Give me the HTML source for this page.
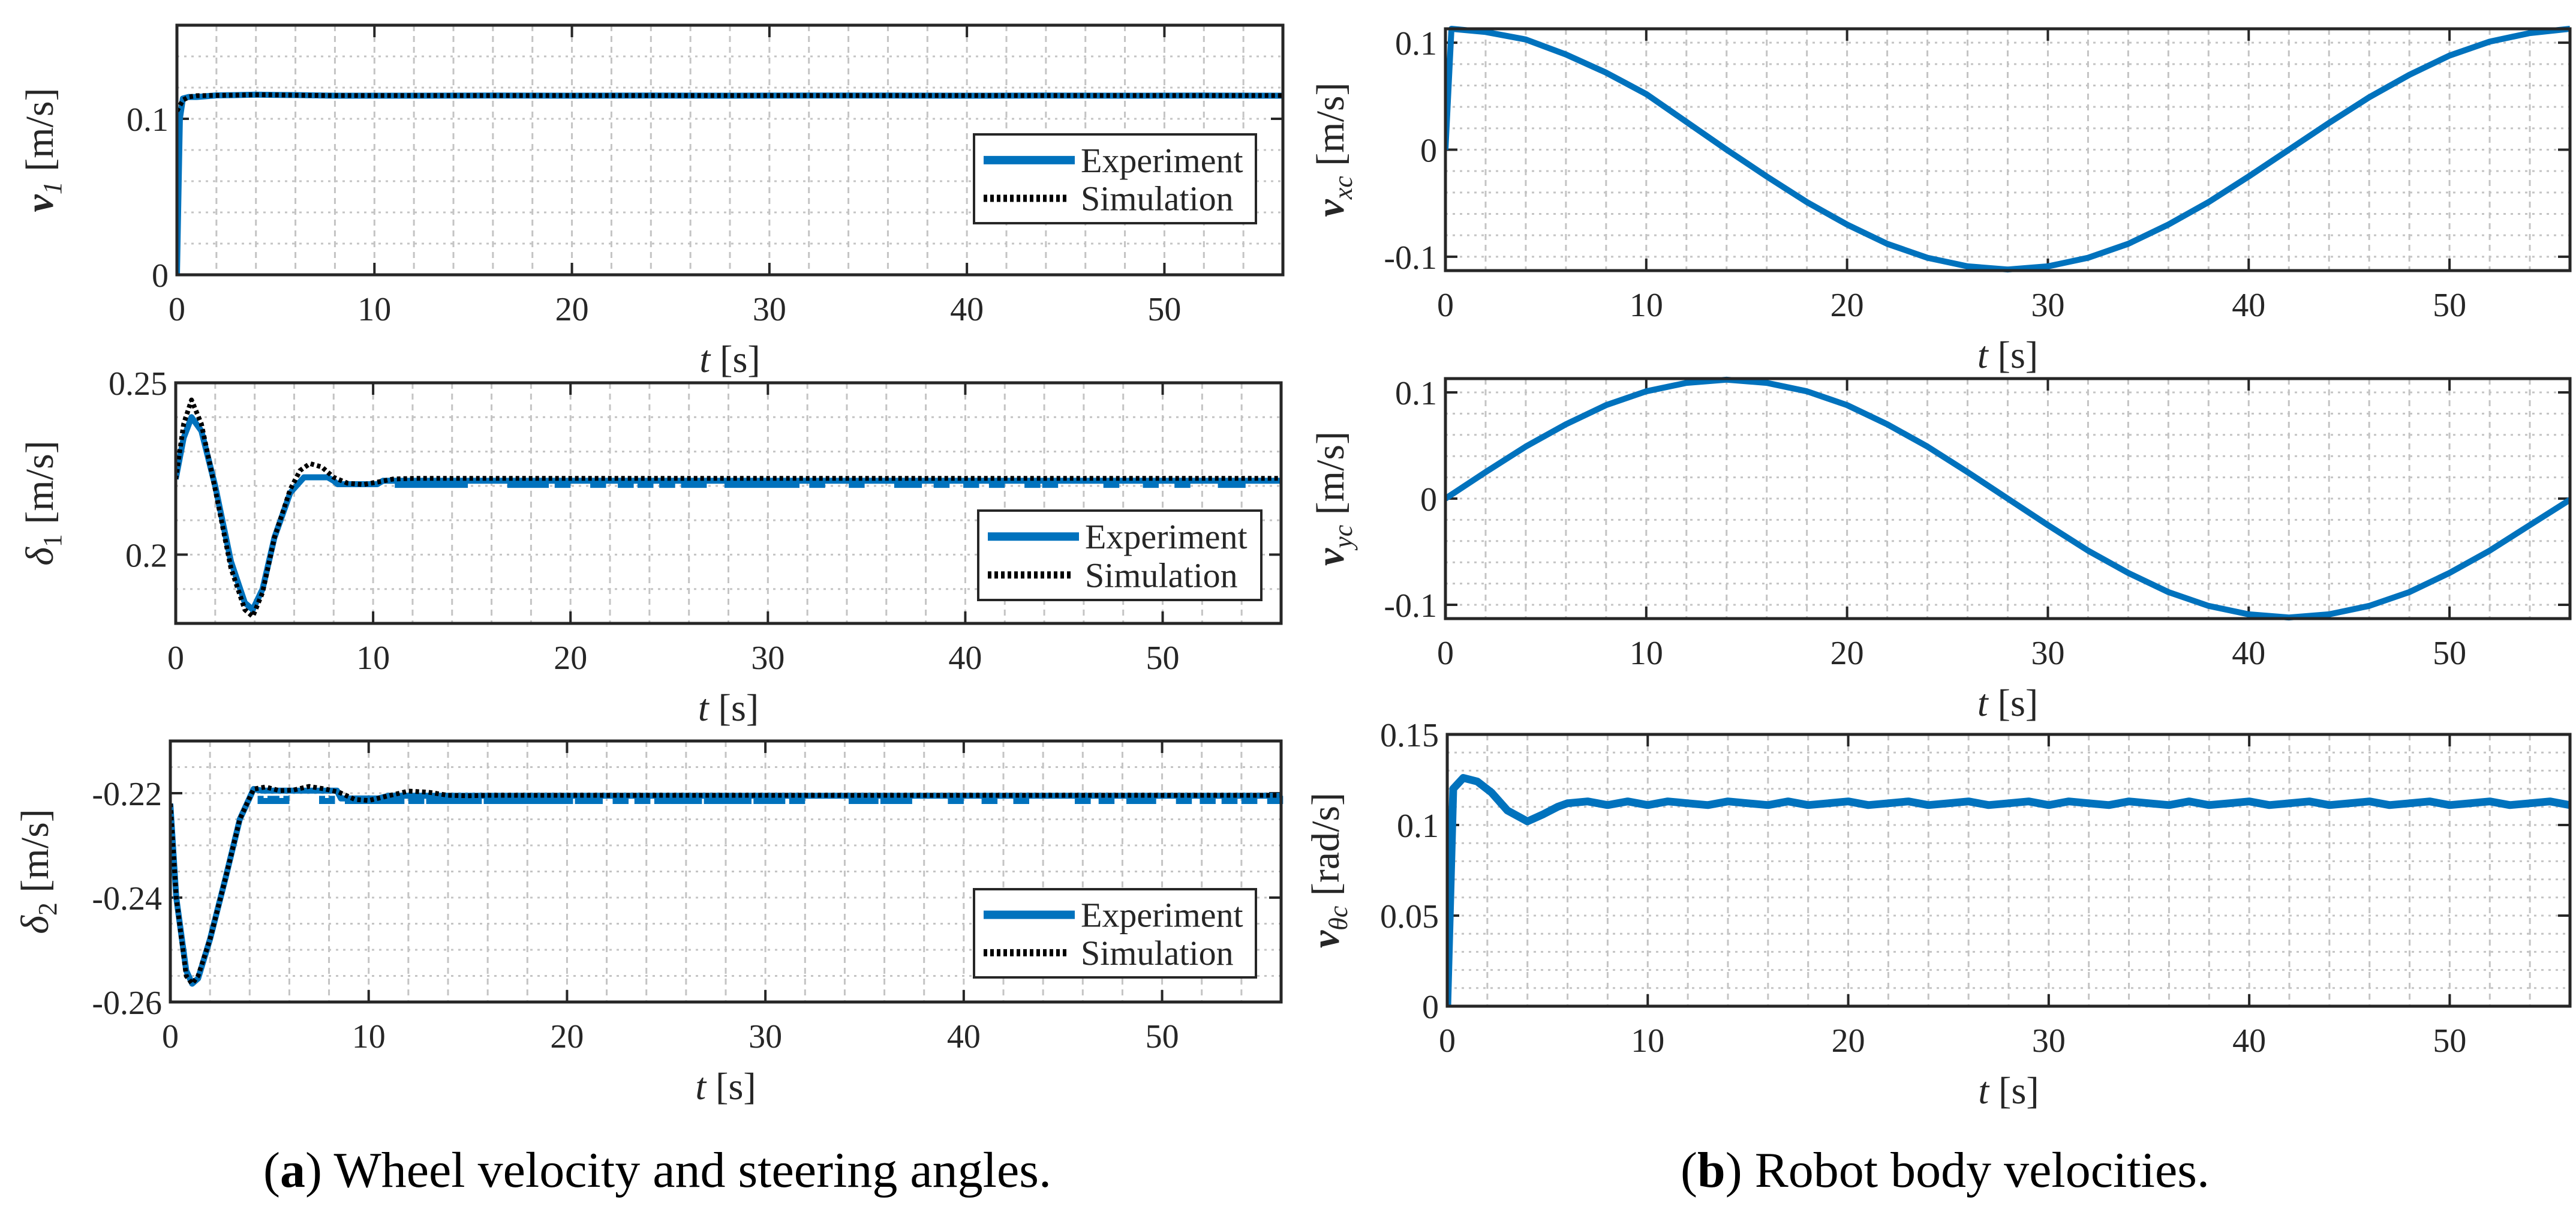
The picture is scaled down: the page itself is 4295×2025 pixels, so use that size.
<!DOCTYPE html>
<html><head><meta charset="utf-8"><style>
html,body{margin:0;padding:0;background:#fff;}
svg{display:block;}
text{font-family:"Liberation Serif",serif;fill:#262626;}
</style></head><body>
<svg id="fig" width="4295" height="2025" viewBox="0 0 4295 2025" xmlns="http://www.w3.org/2000/svg">
<text x="1096" y="1978" font-size="84" text-anchor="middle" style="fill:#000">(<tspan font-weight="bold">a</tspan>) Wheel velocity and steering angles.</text>
<text x="3243" y="1978" font-size="84" text-anchor="middle" style="fill:#000">(<tspan font-weight="bold">b</tspan>) Robot body velocities.</text>
</svg>
<script>
// ---- data ----
const xTicks=[0,10,20,30,40,50];
// v1
const v1ExpT=[0,0.15,0.3,0.6,1,2,3,4,5,6,8,12,16,20,24,28,32,36,40,44,48,52,56];
const v1ExpV=[0,0.1,0.113,0.114,0.114,0.115,0.1152,0.1155,0.1153,0.1152,0.1148,0.1148,0.1149,0.1148,0.1149,0.1148,0.1149,0.1149,0.1148,0.1149,0.1148,0.1149,0.1148];
const v1SimT=[0,0.3,0.6,1,2,3,4,5,6,8,12,16,20,24,28,32,36,40,44,48,52,56];
const v1SimV=[0.105,0.112,0.114,0.1148,0.115,0.1152,0.1154,0.1153,0.1151,0.1149,0.1149,0.1149,0.1149,0.1149,0.1149,0.1149,0.1149,0.1149,0.1149,0.1149,0.1149,0.1149];
// delta1
const d1ExpT=[0,0.4,0.8,1.3,2,2.8,3.5,3.9,4.4,5,5.8,6.5,7.7,8,8.2,10.2,10.5,56];
const d1ExpV=[0.222,0.234,0.240,0.236,0.220,0.198,0.186,0.184,0.190,0.205,0.218,0.2225,0.2225,0.2215,0.2205,0.2205,0.2215,0.2215];
const d1SimT=[0,0.4,0.8,1.3,2,2.8,3.5,3.9,4.4,5,5.8,6.3,6.8,7.4,8,8.7,9.5,10.3,11,12,56];
const d1SimV=[0.222,0.238,0.245,0.238,0.219,0.196,0.184,0.182,0.189,0.205,0.219,0.2245,0.2265,0.2255,0.2225,0.2208,0.2204,0.2212,0.222,0.2222,0.2222];
const d1Spikes=[11.5,12.2,13,13.6,14.4,17.2,17.7,18.5,19.6,21.4,22.8,23.8,24.9,26,26.5,28.2,28.8,29.5,30.2,30.7,31.2,32.5,34.5,36.8,37.4,38.8,40.3,41.6,43.4,44.3,47.4,49.4,51,53.2,53.8];
const d1SpikeV=0.2203;
// delta2
const d2ExpT=[0,0.3,0.8,1.1,1.4,2,2.8,3.5,4.2,4.6,8.4,8.6,10.5,11,56];
const d2ExpV=[-0.222,-0.240,-0.254,-0.2565,-0.2555,-0.248,-0.236,-0.225,-0.2192,-0.2195,-0.2195,-0.221,-0.221,-0.2205,-0.2205];
const d2SimT=[0,0.3,0.8,1.1,1.4,2,2.8,3.5,4.2,4.8,5.5,6.2,7,7.8,8.5,9.3,10,11,12,13,14,15,16,56];
const d2SimV=[-0.222,-0.240,-0.255,-0.2565,-0.255,-0.248,-0.236,-0.225,-0.2192,-0.2188,-0.2195,-0.2194,-0.2187,-0.2192,-0.2198,-0.2212,-0.2214,-0.2205,-0.2196,-0.2198,-0.2204,-0.2205,-0.2204,-0.2204];
const d2Spikes=[4.8,5.6,7.9,9.2,9.8,10.6,11.4,12.4,13.3,14.1,14.9,15.3,16.2,16.8,17.6,18.4,19.2,19.9,20.8,21.4,22.7,23.8,24.8,25.6,26.4,27.3,28.1,28.9,29.8,30.6,31.6,34.6,35.3,36.2,37,39.6,41.3,42.9,46,47.2,48.6,49.3,51.1,52.3,53.4,54.4,55.7];
const d2SpikeV=-0.2215;
// vxc, vyc
const bodyT=[0,2,4,6,8,10,12,14,16,18,20,22,24,26,28,30,32,34,36,38,40,42,44,46,48,50,52,54,56];
const vxcV=[0.112,0.110,0.103,0.089,0.072,0.052,0.026,0.000,-0.025,-0.049,-0.070,-0.088,-0.101,-0.109,-0.112,-0.109,-0.101,-0.088,-0.070,-0.049,-0.025,0.000,0.025,0.049,0.070,0.088,0.101,0.109,0.113];
const vycV=[0.000,0.025,0.049,0.070,0.088,0.101,0.109,0.112,0.109,0.101,0.088,0.070,0.049,0.025,0.000,-0.025,-0.049,-0.070,-0.088,-0.101,-0.109,-0.112,-0.109,-0.101,-0.088,-0.070,-0.049,-0.025,-0.001];
// vthetac
const vthT=[0,0.3,0.8,1.5,2.2,3,4,4.8,5.5,6,7,8,9,10,11,12,13,14,15,16,17,18,19,20,21,22,23,24,25,26,27,28,29,30,31,32,33,34,35,36,37,38,39,40,41,42,43,44,45,46,47,48,49,50,51,52,53,54,55,56];
const vthV=[0,0.120,0.126,0.124,0.118,0.108,0.102,0.106,0.110,0.112,0.113,0.111,0.113,0.111,0.113,0.112,0.111,0.113,0.112,0.111,0.113,0.111,0.112,0.113,0.111,0.112,0.113,0.111,0.112,0.113,0.111,0.112,0.113,0.111,0.113,0.112,0.111,0.113,0.112,0.111,0.113,0.111,0.112,0.113,0.111,0.112,0.113,0.111,0.112,0.113,0.111,0.112,0.113,0.111,0.112,0.113,0.111,0.112,0.113,0.111];

// ---- drawing ----
const NS="http://www.w3.org/2000/svg";
const svg=document.getElementById('fig');
const BLUE="#0072BD";
function mk(tag,attrs,parent){const e=document.createElementNS(NS,tag);for(const k in attrs)e.setAttribute(k,attrs[k]);(parent||svg).appendChild(e);return e;}

function panel(c){
  const g=mk('g',{});
  
  
  const sx=t=>c.l+(t-0)/(56-0)*(c.r-c.l);
  const sy=v=>c.b-(v-c.y0)/(c.y1-c.y0)*(c.b-c.t);
  c.sx=sx;c.sy=sy;
  for(let t=2;t<56;t+=2){
    const l=mk('line',{x1:sx(t),x2:sx(t),y1:c.t,y2:c.b,stroke:"#c4c4c4","stroke-width":3,"stroke-dasharray":"10 8"},g);
    
    
  }
  const start=Math.ceil((c.y0+1e-9)/c.minor)*c.minor;
  for(let v=start;v<c.y1-1e-9;v+=c.minor){
    const l=mk('line',{x1:c.l,x2:c.r,y1:sy(v),y2:sy(v),stroke:"#c4c4c4","stroke-width":3,"stroke-dasharray":"4 8"},g);
    
    
  }
  xTicks.forEach(t=>{
    mk('line',{x1:sx(t),x2:sx(t),y1:c.b,y2:c.b-20,stroke:"#262626","stroke-width":4},g);
    mk('line',{x1:sx(t),x2:sx(t),y1:c.t,y2:c.t+20,stroke:"#262626","stroke-width":4},g);
    const tx=mk('text',{x:sx(t),y:c.b+76,"font-size":56,"text-anchor":"middle"},g);
    tx.textContent=t;
    
    
  });
  c.yTicks.forEach((v,i)=>{
    mk('line',{x1:c.l,x2:c.l+20,y1:sy(v),y2:sy(v),stroke:"#262626","stroke-width":4},g);
    mk('line',{x1:c.r,x2:c.r-20,y1:sy(v),y2:sy(v),stroke:"#262626","stroke-width":4},g);
    const tx=mk('text',{x:c.l-14,y:sy(v)+20,"font-size":56,"text-anchor":"end"},g);
    tx.textContent=c.yLabels[i];
    
    
  });
  const xt=mk('text',{x:(c.l+c.r)/2,y:c.b+162,"font-size":64,"text-anchor":"middle"},g);
  xt.innerHTML='<tspan font-style="italic">t</tspan> [s]';
  
  
  const yt=mk('text',{x:0,y:0,"font-size":66,"text-anchor":"middle",transform:`translate(${c.yx},${(c.t+c.b)/2}) rotate(-90)`},g);
  yt.innerHTML=c.ylab;
  
  
  c.g=g;
  return c;
}
function frame(c){
  const r=mk('rect',{x:c.l,y:c.t,width:c.r-c.l,height:c.b-c.t,fill:"none",stroke:"#262626","stroke-width":5},c.g);
  
  
}
function clipFor(c,id){
  const cp=mk('clipPath',{id:id});
  mk('rect',{x:c.l,y:c.t-8,width:c.r-c.l,height:c.b-c.t+16},cp);
  return 'url(#'+id+')';
}
function line(c,T,V,opts,name){
  let d='';
  T.forEach((t,i)=>{d+=(i?'L':'M')+c.sx(t).toFixed(1)+','+c.sy(V[i]).toFixed(1);});
  const p=mk('path',Object.assign({d:d,fill:"none","stroke-linejoin":"round"},opts),c.g);
  
  
  return p;
}
function spikes(c,times,base,low,name){
  const w=(c.r-c.l)/56*0.25;
  let d='';
  times.forEach(t=>{const x=c.sx(t);d+=`M${(x-w).toFixed(1)},${c.sy(base)}L${(x-w).toFixed(1)},${c.sy(low)}L${(x+w).toFixed(1)},${c.sy(low)}L${(x+w).toFixed(1)},${c.sy(base)}`;});
  const p=mk('path',{d:d,fill:"none",stroke:BLUE,"stroke-width":10},c.g);
  
  
}
function legend(c,x,y,w,h){
  const g=mk('g',{},c.g);
  
  
  mk('rect',{x:x,y:y,width:w,height:h,fill:"#fff",stroke:"#262626","stroke-width":4},g);
  const r1=y+h*0.29,r2=y+h*0.72;
  mk('line',{x1:x+16,x2:x+168,y1:r1,y2:r1,stroke:BLUE,"stroke-width":14},g);
  mk('line',{x1:x+16,x2:x+158,y1:r2,y2:r2,stroke:"#000","stroke-width":12,"stroke-dasharray":"6 5"},g);
  const a=mk('text',{x:x+178,y:r1+20,"font-size":58},g);a.textContent='Experiment';
  
  
  const b=mk('text',{x:x+178,y:r2+20,"font-size":58},g);b.textContent='Simulation';
  
  
}
const expStyle=c=>({stroke:BLUE,"stroke-width":10,"clip-path":c});
const simStyle=c=>({stroke:"#000","stroke-width":8,"stroke-dasharray":"6 5","clip-path":c});
const vl=(s)=>`<tspan font-style="italic" font-weight="bold">v</tspan><tspan font-size="44" dy="14" font-style="italic">${s}</tspan><tspan dy="-14"> [m/s]</tspan>`;

const p1=panel({name:'plot-v1',l:295,r:2139,t:42,b:458,y0:0,y1:0.16,minor:0.02,yTicks:[0,0.1],yLabels:['0','0.1'],yx:88,ylab:vl('1')});
let cp=clipFor(p1,'c1');
line(p1,v1ExpT,v1ExpV,expStyle(cp),'series-experiment');
line(p1,v1SimT,v1SimV,simStyle(cp),'series-simulation');
frame(p1);legend(p1,1624,224,470,148);

const p2=panel({name:'plot-delta1',l:293,r:2136,t:638,b:1039,y0:0.18,y1:0.25,minor:0.01,yTicks:[0.2,0.25],yLabels:['0.2','0.25'],yx:88,ylab:`<tspan font-style="italic">δ</tspan><tspan font-size="44" dy="14">1</tspan><tspan dy="-14"> [m/s]</tspan>`});
cp=clipFor(p2,'c2');
line(p2,d1ExpT,d1ExpV,expStyle(cp),'series-experiment');
spikes(p2,d1Spikes,0.2215,d1SpikeV,'series-experiment-spikes');
line(p2,d1SimT,d1SimV,simStyle(cp),'series-simulation');
frame(p2);legend(p2,1631,851,472,149);

const p3=panel({name:'plot-delta2',l:284,r:2136,t:1235,b:1670,y0:-0.26,y1:-0.21,minor:0.005,yTicks:[-0.26,-0.24,-0.22],yLabels:['-0.26','-0.24','-0.22'],yx:80,ylab:`<tspan font-style="italic">δ</tspan><tspan font-size="44" dy="14">2</tspan><tspan dy="-14"> [m/s]</tspan>`});
cp=clipFor(p3,'c3');
line(p3,d2ExpT,d2ExpV,expStyle(cp),'series-experiment');
spikes(p3,d2Spikes,-0.2205,d2SpikeV,'series-experiment-spikes');
line(p3,d2SimT,d2SimV,simStyle(cp),'series-simulation');
frame(p3);legend(p3,1624,1482,470,147);

const p4=panel({name:'plot-vxc',l:2410,r:4285,t:48,b:451,y0:-0.113,y1:0.113,minor:0.02,yTicks:[-0.1,0,0.1],yLabels:['-0.1','0','0.1'],yx:2240,ylab:vl('xc')});
cp=clipFor(p4,'c4');
line(p4,[0,0.3].concat(bodyT.slice(1)),[0,0.113].concat(vxcV.slice(1)),expStyle(cp),'series-vxc');
frame(p4);

const p5=panel({name:'plot-vyc',l:2410,r:4285,t:631,b:1031,y0:-0.113,y1:0.113,minor:0.02,yTicks:[-0.1,0,0.1],yLabels:['-0.1','0','0.1'],yx:2240,ylab:vl('yc')});
cp=clipFor(p5,'c5');
line(p5,bodyT,vycV,expStyle(cp),'series-vyc');
frame(p5);

const p6=panel({name:'plot-vthetac',l:2413,r:4285,t:1224,b:1677,y0:0,y1:0.15,minor:0.01,yTicks:[0,0.05,0.1,0.15],yLabels:['0','0.05','0.1','0.15'],yx:2232,ylab:`<tspan font-style="italic" font-weight="bold">v</tspan><tspan font-size="44" dy="14" font-style="italic">θc</tspan><tspan dy="-14"> [rad/s]</tspan>`});
cp=clipFor(p6,'c6');
line(p6,vthT,vthV,{stroke:BLUE,"stroke-width":13,"clip-path":cp},'series-vthetac');
frame(p6);
</script>
</body></html>
